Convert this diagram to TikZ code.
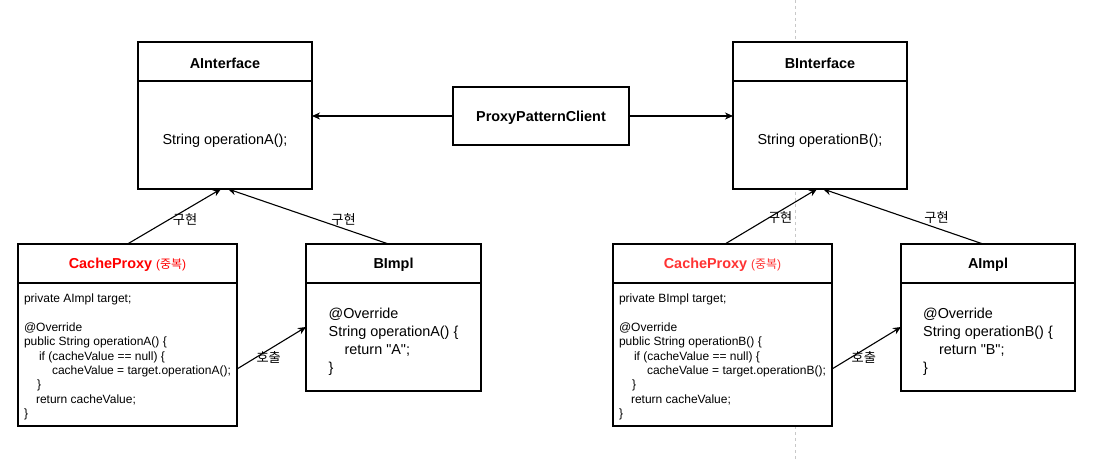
\documentclass[tikz,border=0pt]{standalone}
\usepackage{fontspec}
\setmainfont{Liberation Sans}[Ligatures=TeXOff]
\newfontfamily\kofont{Noto Sans CJK KR}
\usetikzlibrary{positioning,arrows.meta}
\definecolor{proxyred}{HTML}{FF0000}
\definecolor{proxyredlt}{HTML}{FF3333}
\definecolor{pagegray}{HTML}{C8C8C8}
\newcommand\padtop[1]{\rule{0pt}{#1}}
\begin{document}
\begin{tikzpicture}[x=1pt, y=-1pt, node distance=0pt, line join=miter,
    every node/.style={outer sep=0pt, inner sep=0pt},
    box/.style={draw, fill=white, line width=2pt, align=center},
    head/.style={box, minimum height=39pt, font=\fontsize{14.4}{17}\selectfont\bfseries, execute at begin node={\padtop{13.5pt}}},
    body/.style={box, font=\fontsize{14.4}{18}\selectfont},
    codebody/.style={box, align=left, font=\fontsize{12}{14.3}\selectfont},
    link/.style={draw, line width=1.1pt, -{Stealth[length=8pt, width=7pt, inset=2.5pt]}},
    lbl/.style={font=\kofont\fontsize{13.2}{15}\selectfont}]
    \useasboundingbox (0,0) rectangle (1095,462);
    \draw[pagegray, line width=0.8pt, dash pattern=on 3pt off 3pt] (795,0) -- (795,462);

    \node[head, minimum width=174pt] (aif) at (225,61.5) {AInterface};
    \node[body, minimum width=174pt, minimum height=108pt, below=of aif] (aifbody) {\padtop{21.5pt}String operationA();};
    \node[head, minimum width=176pt, minimum height=58pt] (client) at (541,116) {ProxyPatternClient};
    \node[head, minimum width=174pt] (bif) at (820,61.5) {BInterface};
    \node[body, minimum width=174pt, minimum height=108pt, below=of bif] (bifbody) {\padtop{21.5pt}String operationB();};

    \node[head, minimum width=219pt, text=proxyred] (cpa) at (127.5,263.5) {CacheProxy {\mdseries\fontsize{12}{14}\selectfont({\kofont 중복})}};
    \node[codebody, minimum width=219pt, minimum height=143pt, below=of cpa] (cpabody) {\padtop{13.8pt}private AImpl target;\\[14.3pt] @Override\\ public String operationA() \{\\ \hspace*{15pt}if (cacheValue == null) \{\\ \hspace*{28pt}cacheValue = target.operationA();\\ \hspace*{13pt}\}\\ \hspace*{12pt}return cacheValue;\\ \}};
    \node[head, minimum width=175pt] (bimpl) at (393.5,263.5) {BImpl};
    \node[body, align=left, minimum width=175pt, minimum height=108pt, below=of bimpl] (bimplbody) {\padtop{20.5pt}@Override\\ String operationA() \{\\ \hspace*{16pt}return "A";\\ \}};

    \node[head, minimum width=219pt, text=proxyredlt] (cpb) at (722.5,263.5) {CacheProxy {\mdseries\fontsize{12}{14}\selectfont({\kofont 중복})}};
    \node[codebody, minimum width=219pt, minimum height=143pt, below=of cpb] (cpbbody) {\padtop{13.8pt}private BImpl target;\\[14.3pt] @Override\\ public String operationB() \{\\ \hspace*{15pt}if (cacheValue == null) \{\\ \hspace*{28pt}cacheValue = target.operationB();\\ \hspace*{13pt}\}\\ \hspace*{12pt}return cacheValue;\\ \}};
    \node[head, minimum width=174pt] (aimpl) at (988,263.5) {AImpl};
    \node[body, align=left, minimum width=174pt, minimum height=108pt, below=of aimpl] (aimplbody) {\padtop{20.5pt}@Override\\ String operationB() \{\\ \hspace*{16pt}return "B";\\ \}};

    \draw[link] (client.west) -- (client.west -| aifbody.east);
    \draw[link] (client.east) -- (client.east -| bifbody.west);
    \draw[link] (cpa.north) -- node[lbl, pos=0.615, yshift=-9pt] {구현} ([xshift=-4pt]aifbody.south);
    \draw[link] ([xshift=-5pt]bimpl.north) -- node[lbl, pos=0.28, yshift=9pt] {구현} ([xshift=3pt]aifbody.south);
    \draw[link] ([yshift=-14.5pt]cpabody.east) -- node[lbl, pos=0.46, yshift=-7.5pt] {호출} ([yshift=10pt]bimplbody.west);
    \draw[link] ([xshift=2.5pt]cpb.north) -- node[lbl, pos=0.6, yshift=-7pt] {구현} ([xshift=-3pt]bifbody.south);
    \draw[link] ([xshift=-5pt]aimpl.north) -- node[lbl, pos=0.29, yshift=10pt] {구현} ([xshift=3pt]bifbody.south);
    \draw[link] ([yshift=-14.5pt]cpbbody.east) -- node[lbl, pos=0.46, yshift=-7.5pt] {호출} ([yshift=10pt]aimplbody.west);
\end{tikzpicture}
\end{document}
